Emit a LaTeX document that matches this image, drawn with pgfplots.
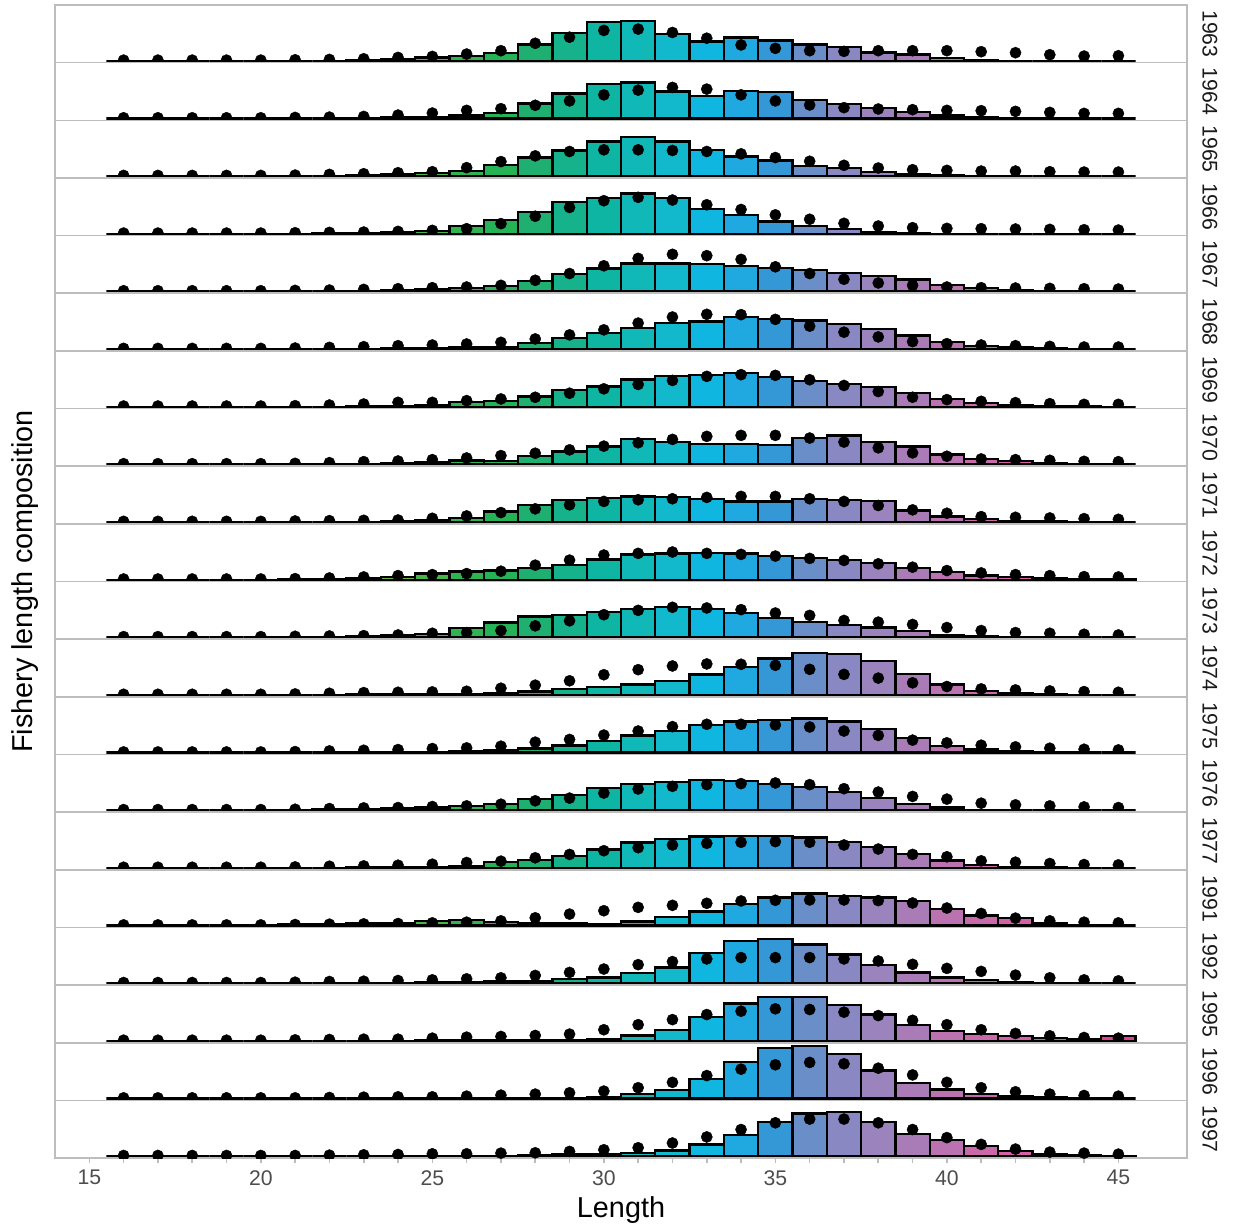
\documentclass[border=0pt]{standalone}
\usepackage{fontspec}
\setmainfont{Liberation Sans}
\usepackage{pgfplots}
\usepackage{pgfplotstable}
\pgfplotsset{compat=1.18}

\definecolor{c16}{HTML}{D08A3A}\definecolor{c17}{HTML}{C8903A}\definecolor{c18}{HTML}{C09636}
\definecolor{c19}{HTML}{B79B34}\definecolor{c20}{HTML}{B59F33}\definecolor{c21}{HTML}{AAA434}
\definecolor{c22}{HTML}{9CA936}\definecolor{c23}{HTML}{8AAF3C}\definecolor{c24}{HTML}{6CB443}
\definecolor{c25}{HTML}{45B54A}\definecolor{c26}{HTML}{2FB44F}\definecolor{c27}{HTML}{26B256}
\definecolor{c28}{HTML}{1FB071}\definecolor{c29}{HTML}{15B28C}\definecolor{c30}{HTML}{0FB5A3}
\definecolor{c31}{HTML}{10B8B8}\definecolor{c32}{HTML}{12B9CC}\definecolor{c33}{HTML}{0FB6E0}
\definecolor{c34}{HTML}{20A8E0}\definecolor{c35}{HTML}{3498D6}\definecolor{c36}{HTML}{6A8EC8}
\definecolor{c37}{HTML}{8A88C2}\definecolor{c38}{HTML}{9B84BE}\definecolor{c39}{HTML}{A97CB8}
\definecolor{c40}{HTML}{BB72B0}\definecolor{c41}{HTML}{C869AA}\definecolor{c42}{HTML}{D460A5}
\definecolor{c43}{HTML}{DB559F}\definecolor{c44}{HTML}{E04A98}\definecolor{c45}{HTML}{E24092}
\definecolor{framegray}{HTML}{BDBDBD}
\definecolor{ticktext}{HTML}{4D4D4D}
\definecolor{striptext}{HTML}{1A1A1A}

% columns: L = length, b = bar (fishery), d = dot (observed); heights in panel units
\pgfplotstableread[row sep=\\]{
L b d\\
16 0 2\\17 0 2\\18 0 2\\19 0 2\\20 0 2\\21 0 3\\22 0 4\\23 1 6\\24 5 10\\25 10 13\\
26 15 20\\27 23 30\\28 48 52\\29 83 70\\30 115 90\\31 118 94\\32 80 84\\33 57 67\\34 69 47\\35 60 37\\
36 48 30\\37 41 28\\38 25 30\\39 19 30\\40 9 30\\41 2 27\\42 0 24\\43 0 18\\44 0 14\\45 0 15\\
}\yrA
\pgfplotstableread[row sep=\\]{
L b d\\
16 0 2\\17 0 2\\18 0 2\\19 0 2\\20 0 2\\21 0 3\\22 0 4\\23 1 6\\24 4 10\\25 4 16\\
26 9 24\\27 17 29\\28 44 39\\29 74 52\\30 102 70\\31 107 84\\32 80 92\\33 67 87\\34 82 70\\35 79 52\\
36 54 40\\37 42 32\\38 32 28\\39 19 26\\40 9 24\\41 4 23\\42 1 21\\43 0 18\\44 0 15\\45 0 15\\
}\yrB
\pgfplotstableread[row sep=\\]{
L b d\\
16 0 2\\17 0 2\\18 0 2\\19 0 2\\20 0 2\\21 0 3\\22 0 5\\23 2 7\\24 5 10\\25 10 13\\
26 16 25\\27 33 43\\28 55 60\\29 76 73\\30 103 78\\31 116 78\\32 103 76\\33 78 73\\34 58 66\\35 46 55\\
36 31 44\\37 23 32\\38 13 24\\39 6 19\\40 3 17\\41 1 15\\42 0 15\\43 0 13\\44 0 12\\45 0 12\\
}\yrC
\pgfplotstableread[row sep=\\]{
L b d\\
16 0 2\\17 0 2\\18 0 2\\19 0 2\\20 0 2\\21 0 3\\22 1 4\\23 3 5\\24 6 7\\25 9 10\\
26 24 15\\27 41 30\\28 64 52\\29 94 78\\30 106 98\\31 119 108\\32 106 100\\33 73 86\\34 56 72\\35 36 56\\
36 23 43\\37 14 31\\38 6 23\\39 2 18\\40 0 16\\41 0 15\\42 0 14\\43 0 13\\44 0 12\\45 0 11\\
}\yrD
\pgfplotstableread[row sep=\\]{
L b d\\
16 0 2\\17 0 2\\18 0 2\\19 0 2\\20 0 2\\21 0 3\\22 0 4\\23 1 6\\24 3 8\\25 6 11\\
26 10 13\\27 16 18\\28 31 33\\29 51 53\\30 68 76\\31 83 98\\32 83 110\\33 81 106\\34 76 95\\35 70 73\\
36 63 53\\37 55 36\\38 46 25\\39 35 18\\40 18 13\\41 10 11\\42 5 10\\43 2 9\\44 1 8\\45 0 7\\
}\yrE
\pgfplotstableread[row sep=\\]{
L b d\\
16 0 2\\17 0 2\\18 0 2\\19 0 2\\20 0 2\\21 0 3\\22 0 5\\23 1 7\\24 2 10\\25 3 12\\
26 5 15\\27 7 20\\28 18 30\\29 32 42\\30 48 57\\31 63 77\\32 78 95\\33 82 103\\34 95 102\\35 90 88\\
36 85 68\\37 75 50\\38 60 36\\39 40 22\\40 20 16\\41 10 12\\42 5 10\\43 2 8\\44 1 6\\45 0 6\\
}\yrF
\pgfplotstableread[row sep=\\]{
L b d\\
16 0 2\\17 0 2\\18 0 2\\19 0 2\\20 0 2\\21 0 3\\22 0 5\\23 1 8\\24 1 13\\25 5 13\\
26 13 18\\27 16 23\\28 30 28\\29 50 40\\30 60 53\\31 81 66\\32 91 78\\33 95 90\\34 100 95\\35 88 93\\
36 76 80\\37 68 63\\38 58 45\\39 40 28\\40 23 21\\41 10 16\\42 6 12\\43 3 9\\44 1 7\\45 0 7\\
}\yrG
\pgfplotstableread[row sep=\\]{
L b d\\
16 0 2\\17 0 2\\18 0 2\\19 0 2\\20 0 2\\21 0 3\\22 1 5\\23 2 8\\24 3 10\\25 6 14\\
26 11 19\\27 9 26\\28 24 33\\29 38 43\\30 53 54\\31 76 64\\32 66 74\\33 61 83\\34 61 86\\35 58 86\\
36 79 78\\37 86 66\\38 66 49\\39 53 34\\40 29 24\\41 16 16\\42 10 14\\43 4 12\\44 2 9\\45 0 8\\
}\yrH
\pgfplotstableread[row sep=\\]{
L b d\\
16 0 2\\17 0 2\\18 0 2\\19 0 2\\20 0 2\\21 0 3\\22 0 4\\23 1 5\\24 3 6\\25 6 11\\
26 11 18\\27 31 28\\28 51 39\\29 66 51\\30 71 61\\31 76 66\\32 74 69\\33 69 73\\34 61 76\\35 61 76\\
36 68 69\\37 66 61\\38 63 49\\39 34 36\\40 16 26\\41 9 16\\42 4 14\\43 2 12\\44 1 10\\45 0 8\\
}\yrI
\pgfplotstableread[row sep=\\]{
L b d\\
16 0 2\\17 0 2\\18 0 2\\19 0 2\\20 0 2\\21 1 3\\22 2 5\\23 4 8\\24 8 12\\25 18 15\\
26 24 18\\27 27 25\\28 35 43\\29 44 58\\30 60 73\\31 75 78\\32 78 82\\33 80 78\\34 78 75\\35 70 70\\
36 65 63\\37 58 57\\38 50 47\\39 35 37\\40 22 27\\41 12 20\\42 8 15\\43 4 12\\44 2 9\\45 1 8\\
}\yrJ
\pgfplotstableread[row sep=\\]{
L b d\\
16 0 2\\17 0 2\\18 0 2\\19 0 2\\20 0 2\\21 0 3\\22 1 4\\23 2 5\\24 5 7\\25 10 12\\
26 27 14\\27 44 20\\28 62 34\\29 67 49\\30 75 67\\31 85 80\\32 90 89\\33 85 87\\34 72 82\\35 57 72\\
36 45 65\\37 37 50\\38 29 45\\39 19 38\\40 7 29\\41 2 20\\42 1 14\\43 0 12\\44 0 9\\45 0 7\\
}\yrK
\pgfplotstableread[row sep=\\]{
L b d\\
16 0 2\\17 0 2\\18 0 2\\19 0 2\\20 0 2\\21 0 3\\22 0 5\\23 1 7\\24 1 8\\25 2 9\\
26 3 11\\27 4 20\\28 10 29\\29 18 42\\30 24 60\\31 31 75\\32 41 86\\33 61 92\\34 83 91\\35 108 88\\
36 125 76\\37 121 61\\38 100 50\\39 63 36\\40 31 25\\41 12 18\\42 4 15\\43 1 12\\44 0 10\\45 0 8\\
}\yrL
\pgfplotstableread[row sep=\\]{
L b d\\
16 0 2\\17 0 2\\18 0 2\\19 0 2\\20 0 2\\21 0 3\\22 0 5\\23 1 7\\24 1 9\\25 2 12\\
26 4 14\\27 6 19\\28 12 31\\29 21 39\\30 34 52\\31 51 64\\32 64 77\\33 82 84\\34 92 84\\35 97 82\\
36 101 76\\37 92 64\\38 71 51\\39 44 37\\40 19 29\\41 9 22\\42 4 17\\43 1 13\\44 0 10\\45 0 8\\
}\yrM
\pgfplotstableread[row sep=\\]{
L b d\\
16 0 2\\17 0 2\\18 0 2\\19 0 2\\20 0 2\\21 1 3\\22 2 5\\23 3 7\\24 6 8\\25 8 11\\
26 13 13\\27 19 18\\28 33 28\\29 46 36\\30 66 51\\31 78 63\\32 84 71\\33 89 76\\34 86 79\\35 78 81\\
36 68 76\\37 54 64\\38 36 54\\39 18 41\\40 8 33\\41 1 21\\42 0 16\\43 0 13\\44 0 10\\45 0 8\\
}\yrN
\pgfplotstableread[row sep=\\]{
L b d\\
16 0 2\\17 0 2\\18 0 2\\19 0 2\\20 0 2\\21 0 3\\22 0 5\\23 1 6\\24 1 8\\25 3 11\\
26 5 16\\27 18 20\\28 23 30\\29 35 40\\30 55 51\\31 75 60\\32 86 68\\33 93 73\\34 95 76\\35 95 78\\
36 90 76\\37 76 68\\38 62 56\\39 42 40\\40 22 33\\41 9 21\\42 3 17\\43 1 13\\44 0 10\\45 0 9\\
}\yrO
\pgfplotstableread[row sep=\\]{
L b d\\
16 0 2\\17 0 2\\18 0 2\\19 0 2\\20 1 2\\21 3 3\\22 3 4\\23 6 5\\24 7 6\\25 13 8\\
26 17 10\\27 10 14\\28 7 23\\29 7 34\\30 5 44\\31 12 54\\32 25 60\\33 42 66\\34 65 73\\35 83 75\\
36 95 76\\37 88 76\\38 83 74\\39 73 67\\40 50 52\\41 30 36\\42 22 22\\43 8 14\\44 2 10\\45 0 8\\
}\yrP
\pgfplotstableread[row sep=\\]{
L b d\\
16 0 2\\17 0 2\\18 0 2\\19 0 2\\20 0 2\\21 0 3\\22 0 5\\23 1 6\\24 1 8\\25 2 10\\
26 3 13\\27 5 16\\28 7 23\\29 12 32\\30 17 42\\31 30 55\\32 47 64\\33 90 72\\34 125 76\\35 132 76\\
36 115 76\\37 85 72\\38 55 66\\39 32 56\\40 17 44\\41 10 35\\42 4 24\\43 1 16\\44 0 10\\45 0 7\\
}\yrQ
\pgfplotstableread[row sep=\\]{
L b d\\
16 0 2\\17 0 2\\18 0 2\\19 0 2\\20 0 2\\21 0 3\\22 0 4\\23 0 5\\24 0 5\\25 1 8\\
26 1 11\\27 1 13\\28 2 16\\29 2 20\\30 4 33\\31 16 48\\32 33 63\\33 70 78\\34 111 88\\35 130 95\\
36 130 93\\37 106 85\\38 78 75\\39 48 61\\40 30 48\\41 20 33\\42 14 22\\43 9 15\\44 6 10\\45 15 8\\
}\yrR
\pgfplotstableread[row sep=\\]{
L b d\\
16 0 2\\17 0 2\\18 0 2\\19 0 2\\20 0 2\\21 0 2\\22 0 3\\23 0 4\\24 0 5\\25 0 5\\
26 1 7\\27 1 10\\28 1 13\\29 1 17\\30 3 22\\31 13 32\\32 25 48\\33 57 68\\34 108 87\\35 150 100\\
36 155 107\\37 133 103\\38 83 90\\39 47 70\\40 27 48\\41 13 32\\42 6 20\\43 3 13\\44 1 9\\45 0 7\\
}\yrS
\pgfplotstableread[row sep=\\]{
L b d\\
16 0 2\\17 0 2\\18 0 2\\19 0 2\\20 0 2\\21 0 2\\22 0 3\\23 0 4\\24 0 5\\25 0 7\\
26 1 7\\27 1 9\\28 2 10\\29 5 14\\30 7 19\\31 10 25\\32 17 39\\33 35 57\\34 62 79\\35 102 99\\
36 127 110\\37 130 110\\38 102 99\\39 65 79\\40 47 55\\41 30 35\\42 15 21\\43 7 12\\44 3 9\\45 1 6\\
}\yrT

\pgfplotsset{
  lenpanel/.style={scale only axis, width=566pt, height=28.825pt,
    xmin=14, xmax=47, ymin=-5.5, ymax=165.5,
    xtick=\empty, ytick=\empty, anchor=north west,
    clip marker paths=true,
    axis line style={draw=framegray, line width=0.8pt}},
  lenbar/.style={ybar, bar width=1, bar shift=0pt, draw=black, line width=1.15pt},
  lendot/.style={only marks, mark=*, mark size=2.8pt,
    mark options={draw=black, fill=black, line width=0.2pt}},
}
\newcommand\lenpanel[4][]{%
  \begin{axis}[lenpanel, at={(0pt,{-#2*28.825pt})}, #1]
    \pgfplotsinvokeforeach{16,...,45}{%
      \addplot[lenbar, fill=c##1, restrict x to domain=##1:##1] table[x=L,y=b]{#4};
    }
    \addplot[lendot] table[x=L,y=d]{#4};
  \end{axis}
  \node[rotate=-90, text=striptext, font=\fontsize{10.6}{12}\selectfont]
    at (577.5pt,{-(#2+0.5)*28.825pt}) {#3};
}

\begin{document}
\begin{tikzpicture}
\path (-27.5pt,2.5pt) rectangle (590.5pt,-612.5pt);
\lenpanel{0}{1963}{\yrA}
\lenpanel{1}{1964}{\yrB}
\lenpanel{2}{1965}{\yrC}
\lenpanel{3}{1966}{\yrD}
\lenpanel{4}{1967}{\yrE}
\lenpanel{5}{1968}{\yrF}
\lenpanel{6}{1969}{\yrG}
\lenpanel{7}{1970}{\yrH}
\lenpanel{8}{1971}{\yrI}
\lenpanel{9}{1972}{\yrJ}
\lenpanel{10}{1973}{\yrK}
\lenpanel{11}{1974}{\yrL}
\lenpanel{12}{1975}{\yrM}
\lenpanel{13}{1976}{\yrN}
\lenpanel{14}{1977}{\yrO}
\lenpanel{15}{1991}{\yrP}
\lenpanel{16}{1992}{\yrQ}
\lenpanel{17}{1995}{\yrR}
\lenpanel{18}{1996}{\yrS}
\lenpanel[xtick={15,20,...,45}, minor xtick={15,...,45},
  xticklabels={15,20,25,30,35,40,45},
  xtick pos=left, tick align=outside,
  major tick length=2.6pt, minor tick length=2.6pt,
  tick style={draw=framegray, line width=0.8pt},
  xticklabel style={font=\fontsize{10.6}{12}\selectfont, text=ticktext},
  /pgf/number format/assume math mode=true]{19}{1997}{\yrT}
\node[font=\fontsize{14.4}{17}\selectfont] at (283pt,-602.5pt) {Length};
\node[rotate=90, font=\fontsize{14.4}{17}\selectfont] at (-15pt,-288.25pt) {Fishery length composition};
\end{tikzpicture}
\end{document}
